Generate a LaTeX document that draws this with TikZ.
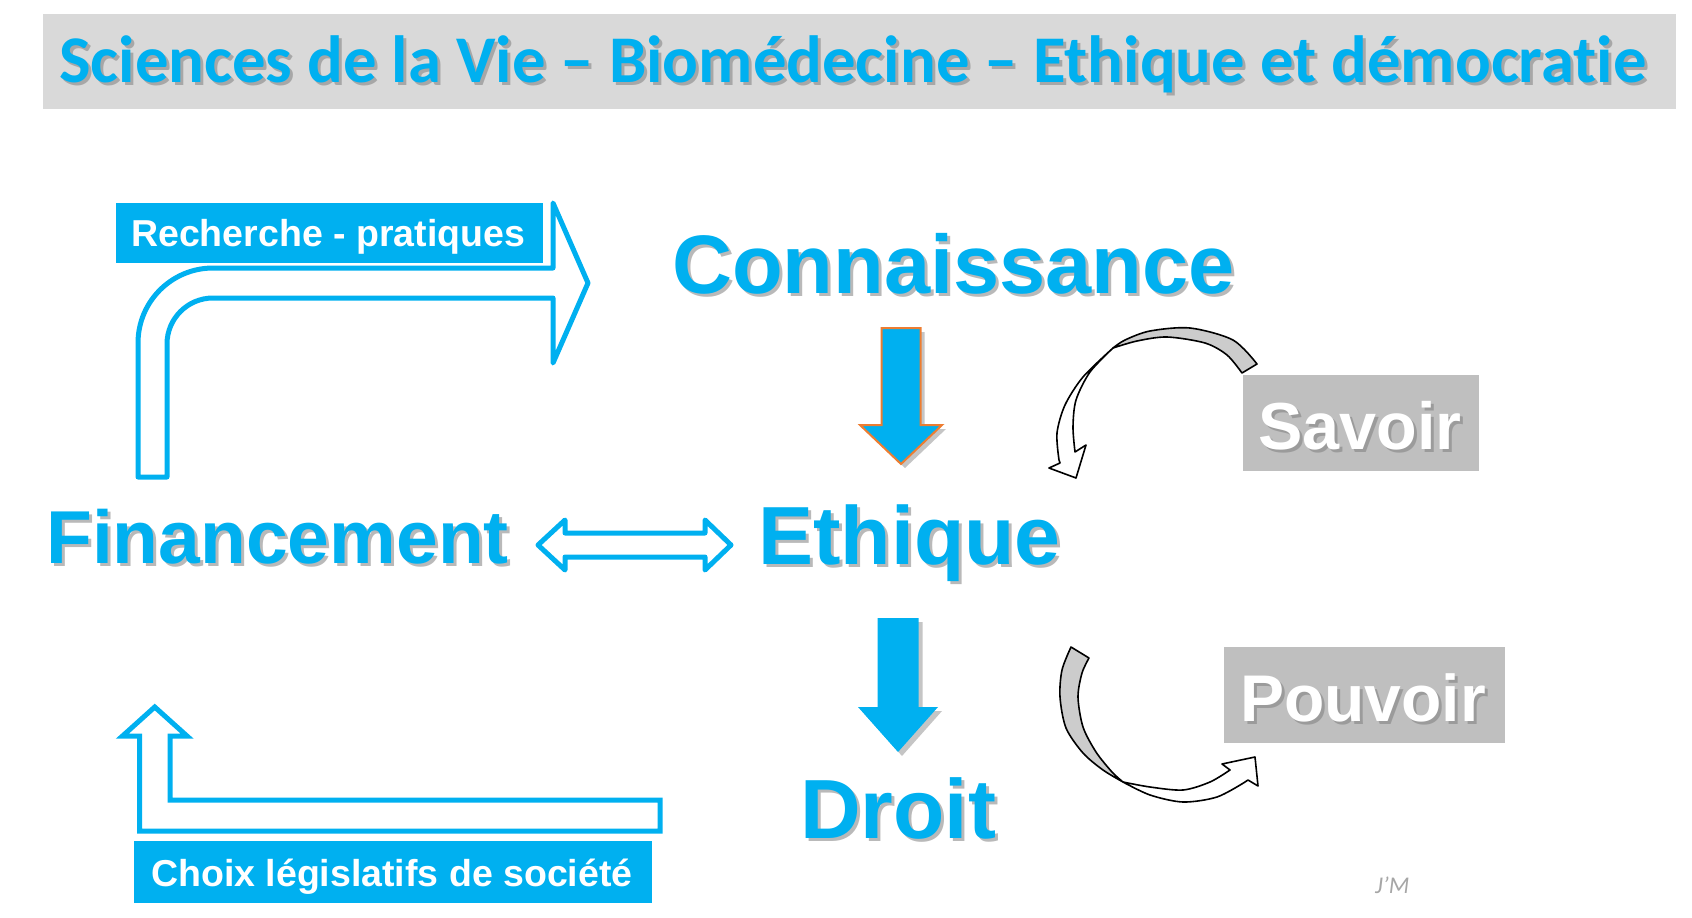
\documentclass[tikz,border=0pt]{standalone}
\usepackage{fontspec}
\setmainfont{Liberation Sans}
\newfontfamily\calib[Ligatures=NoCommon]{Carlito}
\definecolor{pblue}{HTML}{00B0F0}
\definecolor{titlegray}{HTML}{D9D9D9}
\definecolor{boxgray}{HTML}{BFBFBF}
\definecolor{arcgray}{HTML}{CCCCCC}
\definecolor{orangeline}{HTML}{ED7D31}
\definecolor{shadowc}{HTML}{7F7F7F}
\definecolor{sigc}{HTML}{A6A6A6}
\tikzset{
  word/.style={inner sep=0pt, anchor=base west},
  shad/.style={word, text=shadowc, opacity=0.55, xshift=3pt, yshift=-3pt},
  bluebox/.style={fill=pblue, inner sep=0pt, anchor=north west},
  graybox/.style={fill=boxgray, inner sep=0pt, anchor=north west},
  outlinearrow/.style={draw=pblue, line width=5pt, line join=round, fill=white},
  curvearrow/.style={draw=black, line width=1.6pt, line join=round},
}
\begin{document}
\begin{tikzpicture}[x=1pt,y=-1pt]
\useasboundingbox (0,0) rectangle (1692,918);
% title
\node[fill=titlegray, inner sep=0pt, anchor=north west, minimum width=1633pt, minimum height=95pt] (titlebar) at (43,14) {};
\node[shad, font=\calib\bfseries\fontsize{66.7}{70}\selectfont] (title-sh) at (59,82) {Sciences de la Vie – Biomédecine – Ethique et démocratie};
\node[word, text=pblue, font=\calib\bfseries\fontsize{66.7}{70}\selectfont] (title) at (59,82) {Sciences de la Vie – Biomédecine – Ethique et démocratie};

% Recherche box
\node[bluebox, minimum width=427pt, minimum height=60pt] (rechbox) at (116,203) {};
\node[word, text=white, font=\bfseries\fontsize{37.5}{40}\selectfont] (rech) at (131,246) {Recherche - pratiques};

% bent arrow top-left
\draw[outlinearrow] (138,477) -- (138,343) arc[start angle=180, end angle=270, radius=75] -- (553,268)
  -- (553,203) -- (588,283) -- (553,363) -- (553,298) -- (213,298)
  arc[start angle=270, end angle=180, radius=46] -- (167,477) -- cycle;

% words
\node[shad, font=\bfseries\fontsize{83}{90}\selectfont] (conn-sh) at (672,293) {Connaissance};
\node[word, text=pblue, font=\bfseries\fontsize{83}{90}\selectfont] (conn) at (672,293) {Connaissance};
\node[shad, font=\bfseries\fontsize{82.5}{90}\selectfont] (eth-sh) at (758,564) {Ethique};
\node[word, text=pblue, font=\bfseries\fontsize{82.5}{90}\selectfont] (eth) at (758,564) {Ethique};
\node[shad, font=\bfseries\fontsize{75}{80}\selectfont] (fin-sh) at (46,563) {Financement};
\node[word, text=pblue, font=\bfseries\fontsize{75}{80}\selectfont] (fin) at (46,563) {Financement};
\node[shad, font=\bfseries\fontsize{84}{90}\selectfont] (droit-sh) at (800,838) {Droit};
\node[word, text=pblue, font=\bfseries\fontsize{84}{90}\selectfont] (droit) at (800,838) {Droit};

% orange outlined down arrow
\fill[shadowc, opacity=0.45, xshift=4pt, yshift=-4pt] (881.5,328) -- (920.5,328) -- (920.5,425) -- (942,425) -- (901,464) -- (860,425) -- (881.5,425) -- cycle;
\draw[draw=orangeline, line width=2pt, fill=pblue, line join=miter] (881.5,328) -- (920.5,328) -- (920.5,425) -- (942,425) -- (901,464) -- (860,425) -- (881.5,425) -- cycle;

% blue down arrow
\fill[shadowc, opacity=0.45, xshift=4pt, yshift=-4pt] (877.5,618) -- (918.5,618) -- (918.5,707) -- (938,707) -- (898,752) -- (858,707) -- (877.5,707) -- cycle;
\fill[pblue] (877.5,618) -- (918.5,618) -- (918.5,707) -- (938,707) -- (898,752) -- (858,707) -- (877.5,707) -- cycle;

% double arrow
\draw[outlinearrow] (538,545) -- (565,520) -- (565,533) -- (705,533) -- (705,520) -- (731,545)
  -- (705,570) -- (705,557) -- (565,557) -- (565,570) -- cycle;

% bottom-left up arrow
\draw[outlinearrow, line join=miter] (139.5,831) -- (660,831) -- (660,800) -- (170,800) -- (170,736)
  -- (187,736) -- (154.75,707) -- (122.5,736) -- (139.5,736) -- cycle;

% Choix box
\node[bluebox, minimum width=518pt, minimum height=62pt] (choixbox) at (134,841) {};
\node[word, text=white, font=\bfseries\fontsize{37.5}{40}\selectfont] (choix) at (151,886) {Choix législatifs de société};

% Savoir / Pouvoir
\node[graybox, minimum width=236pt, minimum height=96pt] (savbox) at (1243,375) {};
\node[shad, font=\bfseries\fontsize{66.5}{70}\selectfont] (sav-sh) at (1258,449) {Savoir};
\node[word, text=white, font=\bfseries\fontsize{66.5}{70}\selectfont] (sav) at (1258,449) {Savoir};
\node[graybox, minimum width=281pt, minimum height=96pt] (pouvbox) at (1224,647) {};
\node[shad, font=\bfseries\fontsize{66}{70}\selectfont] (pouv-sh) at (1240,721) {Pouvoir};
\node[word, text=white, font=\bfseries\fontsize{66}{70}\selectfont] (pouv) at (1240,721) {Pouvoir};

% upper curved arrow
\draw[curvearrow, fill=arcgray] plot[smooth] coordinates {(1257,364) (1233,340) (1190,328) (1150,331) (1125,340) (1113,348)}
  -- plot[smooth] coordinates {(1113,348) (1137,341) (1167,337) (1205,343) (1227,355) (1242,373)} -- cycle;
\draw[curvearrow, fill=white] plot[smooth] coordinates {(1113,348) (1083,377) (1065,405) (1057,433) (1059,460)}
  -- (1060,463) -- (1049,468) -- (1076,478) -- (1086,445) -- (1075,452)
  -- plot[smooth] coordinates {(1075,452) (1073,427) (1076,400) (1090,372) (1113,348)} -- cycle;

% lower curved arrow
\draw[curvearrow, fill=arcgray] plot[smooth] coordinates {(1071,647) (1062,670) (1060,697) (1066,728) (1083,753) (1103,770) (1123,782)}
  -- plot[smooth] coordinates {(1123,782) (1112,772) (1096,752) (1083,727) (1078,697) (1082,673) (1089,658)} -- cycle;
\draw[curvearrow, fill=white] plot[smooth] coordinates {(1123,782) (1150,795) (1183,802) (1217,797) (1245,782)}
  -- (1248,780) -- (1258,786) -- (1255,757) -- (1222,764) -- (1230,770)
  -- plot[smooth] coordinates {(1230,770) (1210,782) (1183,790) (1150,787) (1123,782)} -- cycle;

% signature
\node[word, text=sigc, font=\calib\itshape\fontsize{24}{26}\selectfont] (sig) at (1375,893) {J’M};
\end{tikzpicture}
\end{document}
